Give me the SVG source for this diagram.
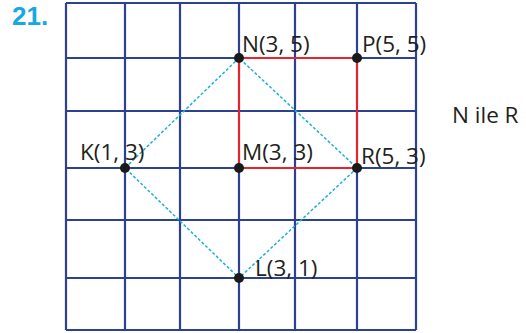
<svg xmlns="http://www.w3.org/2000/svg" width="526" height="333" viewBox="0 0 526 333">
<style>
.g{stroke:#2c4290;stroke-width:2.2;fill:none}
.r{stroke:#e8232b;stroke-width:2;fill:none}
.d{stroke:#1eaee6;stroke-width:1.5;stroke-dasharray:3 2;fill:none}
.t{font-family:"Open Sans","Liberation Sans",sans-serif;font-size:22.5px;fill:#231f20}
.pt{fill:#1a1a1a}
</style>
<rect width="526" height="333" fill="#fff"/>
<text x="12" y="25" font-family="'Liberation Sans',Arial,sans-serif" font-weight="bold" font-size="26" fill="#16a9e1">21.</text>
<g id="grid">
<path class="g" d="M66 3V330M125 3V330M180 3V330M239 3V330M295 3V330M357 3V330M416 3V330M66 3H416M66 58H416M66 111H416M66 168H416M66 220H416M66 278H416M66 330H416"/>
</g>
<g id="connectors">
<path class="r" d="M239 58H357V168H239Z"/>
<path class="d" d="M239 58L125 168L239 278L357 168Z"/>
</g>
<g id="N"><circle class="pt" cx="239" cy="58" r="5"/><text class="t" x="242" y="52">N(3, 5)</text></g>
<g id="P"><circle class="pt" cx="357" cy="58" r="5"/><text class="t" x="362" y="52">P(5, 5)</text></g>
<g id="K"><circle class="pt" cx="125" cy="168" r="5"/><text class="t" x="80" y="160">K(1, 3)</text></g>
<g id="M"><circle class="pt" cx="239" cy="168" r="5"/><text class="t" x="242" y="160">M(3, 3)</text></g>
<g id="R"><circle class="pt" cx="357" cy="168" r="5"/><text class="t" x="361" y="164">R(5, 3)</text></g>
<g id="L"><circle class="pt" cx="239" cy="278" r="5"/><text class="t" x="255" y="276">L(3, 1)</text></g>
<g id="note"><text class="t" x="452" y="123">N ile R</text></g>
</svg>
